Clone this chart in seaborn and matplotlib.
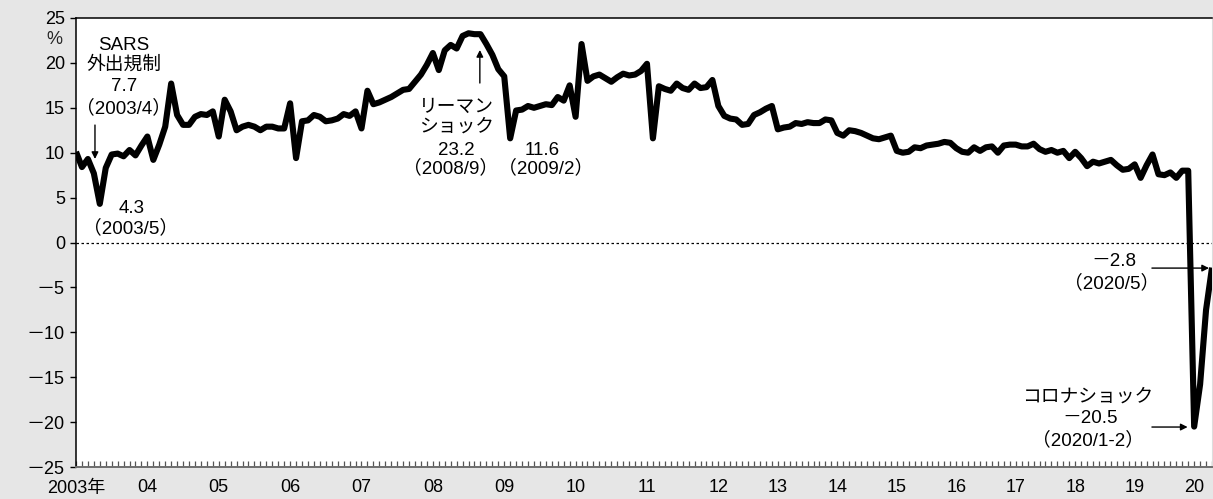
import matplotlib
matplotlib.use("Agg")
import matplotlib.pyplot as plt
import numpy as np
import pandas as pd
import seaborn as sns

# Retail sales, % change y/y.
# 2003-2011: monthly Jan..Dec; 2012-2019: Mar..Dec; 2020: Jan-Feb, Mar, Apr, May
r2003 = [10.1, 8.4, 9.3, 7.7, 4.3, 8.3, 9.8, 9.9, 9.6, 10.3, 9.7, 10.8]
r2004 = [11.8, 9.2, 10.9, 12.9, 17.7, 14.2, 13.1, 13.1, 14.0, 14.3, 14.2, 14.6]
r2005 = [11.8, 15.9, 14.6, 12.5, 12.9, 13.1, 12.9, 12.5, 12.9, 12.9, 12.7, 12.7]
r2006 = [15.5, 9.4, 13.5, 13.6, 14.2, 14.0, 13.5, 13.6, 13.8, 14.3, 14.1, 14.6]
r2007 = [12.7, 16.9, 15.4, 15.6, 15.9, 16.2, 16.6, 17.0, 17.1, 17.9, 18.7, 19.8]
r2008 = [21.1, 19.2, 21.4, 22.0, 21.6, 23.0, 23.3, 23.2, 23.2, 22.1, 20.9, 19.3]
r2009 = [18.5, 11.6, 14.7, 14.8, 15.2, 15.0, 15.2, 15.4, 15.3, 16.2, 15.8, 17.5]
r2010 = [14.0, 22.1, 18.0, 18.5, 18.7, 18.3, 17.9, 18.4, 18.8, 18.6, 18.7, 19.1]
r2011 = [19.9, 11.6, 17.4, 17.1, 16.9, 17.7, 17.2, 17.0, 17.7, 17.2, 17.3, 18.1]
r2012 = [15.2, 14.1, 13.8, 13.7, 13.1, 13.2, 14.2, 14.5, 14.9, 15.2]
r2013 = [12.6, 12.8, 12.9, 13.3, 13.2, 13.4, 13.3, 13.3, 13.7, 13.6]
r2014 = [12.2, 11.9, 12.5, 12.4, 12.2, 11.9, 11.6, 11.5, 11.7, 11.9]
r2015 = [10.2, 10.0, 10.1, 10.6, 10.5, 10.8, 10.9, 11.0, 11.2, 11.1]
r2016 = [10.5, 10.1, 10.0, 10.6, 10.2, 10.6, 10.7, 10.0, 10.8, 10.9]
r2017 = [10.9, 10.7, 10.7, 11.0, 10.4, 10.1, 10.3, 10.0, 10.2, 9.4]
r2018 = [10.1, 9.4, 8.5, 9.0, 8.8, 9.0, 9.2, 8.6, 8.1, 8.2]
r2019 = [8.7, 7.2, 8.6, 9.8, 7.6, 7.5, 7.8, 7.2, 8.0, 8.0]
r2020 = [-20.5, -15.8, -7.5, -2.8]

year_series = [r2003, r2004, r2005, r2006, r2007, r2008, r2009, r2010, r2011,
               r2012, r2013, r2014, r2015, r2016, r2017, r2018, r2019, r2020]
year_labels = ["2003年", "04", "05", "06", "07", "08", "09", "10", "11",
               "12", "13", "14", "15", "16", "17", "18", "19", "20"]
y_ticks = [25, 20, 15, 10, 5, 0, -5, -10, -15, -20, -25]

values = [v for ys in year_series for v in ys]
df = pd.DataFrame({"pos": np.arange(len(values)), "growth": values})
year_starts = np.cumsum([0] + [len(ys) for ys in year_series[:-1]])

sns.set_theme(style="white")
plt.rcParams["font.family"] = ["Liberation Sans", "Noto Sans CJK JP", "DejaVu Sans"]

W, H = 1213, 499
fig = plt.figure(figsize=(W / 100, H / 100), dpi=100, facecolor="#e6e6e6")
ax = fig.add_axes([76 / W, 1 - 467 / H, (1212 - 76) / W, (467 - 18) / H])
ax.set_facecolor("white")

ax.axhline(0, color="black", lw=0.9, ls=(0, (2, 2)), zorder=1)
sns.lineplot(data=df, x="pos", y="growth", ax=ax, color="black", linewidth=4.4,
             solid_joinstyle="round", solid_capstyle="butt", zorder=3)

ax.set_xlim(0, len(values) - 1)
ax.set_ylim(-25, 25)
ax.set_xlabel("")
ax.set_ylabel("")

tick_fs = 13
ax.set_yticks(y_ticks)
ax.set_yticklabels([f"－{abs(v)}" if v < 0 else str(v) for v in y_ticks])
ax.tick_params(axis="y", direction="out", length=4, width=1, color="black",
               pad=4, labelsize=tick_fs, labelcolor="black", left=True)

ax.xaxis.remove_overlapping_locs = False
ax.set_xticks(year_starts)
ax.set_xticklabels(year_labels)
ax.set_xticks(df["pos"], minor=True)
ax.tick_params(axis="x", which="major", length=0, pad=9, labelsize=tick_fs,
               labelcolor="black")
ax.tick_params(axis="x", which="minor", direction="in", length=4.5, width=0.9,
               color="#555555", bottom=True)

for side in ["top", "left"]:
    ax.spines[side].set_color("black")
    ax.spines[side].set_linewidth(1.1)
ax.spines["bottom"].set_color("#6e6e6e")
ax.spines["bottom"].set_linewidth(1.4)
ax.spines["right"].set_color("#dddddd")
ax.spines["right"].set_linewidth(0.8)

fig.text(54 / W, 1 - 40 / H, "%", ha="center", va="center", fontsize=tick_fs)

fs = 13.5
def label(x, y, s):
    ax.text(x, y, s, ha="center", va="center", fontsize=fs, color="black", zorder=4)

def arrow(tip, start):
    ax.annotate("", xy=tip, xytext=start,
                arrowprops=dict(arrowstyle="-|>", color="black", lw=1.0,
                                mutation_scale=10, shrinkA=0, shrinkB=0),
                zorder=4)

# SARS
label(8.07, 21.99, "SARS")
label(8.07, 19.76, "外出規制")
label(8.07, 17.32, "7.7")
label(8.07, 14.98, "（2003/4）")
arrow((3.19, 9.3), (3.19, 13.08))
label(9.4, 3.84, "4.3")
label(9.25, 1.61, "（2003/5）")

# Lehman shock and the Feb-2009 trough
label(63.9, 15.09, "リーマン")
label(63.9, 12.86, "ショック")
label(63.9, 10.30, "23.2")
arrow((67.9, 21.44), (67.9, 17.76))
label(78.3, 10.30, "11.6")
label(71.0, 8.30, "（2008/9）（2009/2）")

# COVID-19
label(174.5, -2.17, "－2.8")
label(174.2, -4.51, "（2020/5）")
arrow((190.5, -2.85), (180.9, -2.85))
label(170.1, -17.2, "コロナショック")
label(170.5, -19.65, "－20.5")
label(170.1, -21.99, "（2020/1-2）")
arrow((186.9, -20.55), (180.9, -20.55))

fig.savefig("out.png", dpi=100, facecolor=fig.get_facecolor())
